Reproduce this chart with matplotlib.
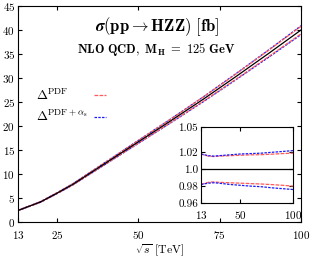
import numpy as np
import matplotlib
matplotlib.use("Agg")
import matplotlib.pyplot as plt

plt.rcParams['font.family'] = ['cmr10', 'DejaVu Serif']
plt.rcParams['mathtext.fontset'] = 'cm'
plt.rcParams['axes.formatter.use_mathtext'] = True

# energia en TeV y seccion eficaz central en fb
sqrt_s = [13, 20, 25, 30, 40, 50, 60, 70, 80, 90, 100]
sigma = [2.4, 4.2, 6.0, 7.9, 12.3, 16.7, 21.1, 25.6, 30.3, 35.1, 40.0]

# razones de incertidumbre (inset)
pdf_up = [1.018, 1.0155, 1.015, 1.0155, 1.016, 1.0165, 1.017, 1.0172, 1.0178, 1.0185, 1.019]
pdf_dn = [0.982, 0.9845, 0.985, 0.9845, 0.984, 0.9835, 0.983, 0.9825, 0.9818, 0.981, 0.980]
pdfas_up = [1.018, 1.016, 1.0155, 1.016, 1.017, 1.018, 1.0185, 1.019, 1.020, 1.021, 1.022]
pdfas_dn = [0.982, 0.9835, 0.984, 0.9835, 0.982, 0.981, 0.980, 0.9793, 0.978, 0.977, 0.976]

labels = [r'$\mathbf{\Delta}^{\rm PDF}$', r'$\mathbf{\Delta}^{\rm PDF+\alpha_s}$']

x_ticks = [13, 25, 50, 75, 100]
y_ticks = [0, 5, 10, 15, 20, 25, 30, 35, 40, 45]
ins_xticks = [13, 50, 100]
ins_yticks = [0.96, 0.98, 1.0, 1.02, 1.05]
ins_ylabels = ['0.96', '0.98', '1.0', '1.02', '1.05']

x = np.array(sqrt_s)
s = np.array(sigma)

red = '#ff5a5a'
blue = '#1a1aff'

fig = plt.figure(figsize=(3.14, 2.57), dpi=100)
ax = fig.add_axes([0.057, 0.136, 0.902, 0.841])

ax.plot(x, s * np.array(pdfas_up), color=blue, lw=0.9, ls=(0, (2, 1)))
ax.plot(x, s * np.array(pdfas_dn), color=blue, lw=0.9, ls=(0, (2, 1)))
ax.plot(x, s * np.array(pdf_up), color=red, lw=0.9, ls=(0, (3, 1)))
ax.plot(x, s * np.array(pdf_dn), color=red, lw=0.9, ls=(0, (3, 1)))
ax.plot(x, s, color='black', lw=0.9)

ax.set_xlim(13, 100)
ax.set_ylim(0, 45)
ax.set_xticks(x_ticks)
ax.set_yticks(y_ticks)
ax.tick_params(direction='in', top=True, right=True, labelsize=8, length=3, pad=2)
ax.tick_params(axis='x', pad=5)
ax.set_xlabel(r'$\sqrt{s}$ [TeV]', fontsize=8.5, labelpad=1)

ax.text(0.49, 0.905, r'$\boldsymbol{\sigma}(\mathbf{pp} \rightarrow \mathbf{HZZ})\ \mathbf{[fb]}$',
        transform=ax.transAxes, ha='center', va='center', fontsize=12)
ax.text(0.49, 0.8, r'$\mathbf{NLO\ QCD,\ M_H\ =\ 125\ GeV}$',
        transform=ax.transAxes, ha='center', va='center', fontsize=9)

# leyenda: textos alineados a la izquierda, lineas a la derecha
h1, = ax.plot([], [], color=red, lw=0.9, ls=(0, (3, 1)))
h2, = ax.plot([], [], color=blue, lw=0.9, ls=(0, (2, 1)))
ax.legend([h1, h2], ['', ''], loc='upper left', bbox_to_anchor=(0.245, 0.638),
          frameon=False, fontsize=9, handlelength=1.0, handletextpad=0,
          labelspacing=0.75, borderpad=0)
ax.text(0.064, 0.585, labels[0], transform=ax.transAxes, fontsize=9.5, va='center')
ax.text(0.064, 0.49, labels[1], transform=ax.transAxes, fontsize=9.5, va='center')

# inset de incertidumbres
ins = fig.add_axes([0.640, 0.210, 0.293, 0.296])
ins.axhline(1.0, color='black', lw=0.9)
ins.plot(x, pdf_up, color=red, lw=0.9, ls=(0, (3, 1)))
ins.plot(x, pdf_dn, color=red, lw=0.9, ls=(0, (3, 1)))
ins.plot(x, pdfas_up, color=blue, lw=0.9, ls=(0, (2, 1)))
ins.plot(x, pdfas_dn, color=blue, lw=0.9, ls=(0, (2, 1)))
ins.set_xlim(13, 100)
ins.set_ylim(0.96, 1.05)
ins.set_xticks(ins_xticks)
ins.set_yticks(ins_yticks)
ins.set_yticklabels(ins_ylabels)
ins.tick_params(direction='in', top=True, right=True, labelsize=8, length=3, pad=2)
ins.tick_params(axis='x', pad=4)

fig.savefig('out.png', dpi=100)
